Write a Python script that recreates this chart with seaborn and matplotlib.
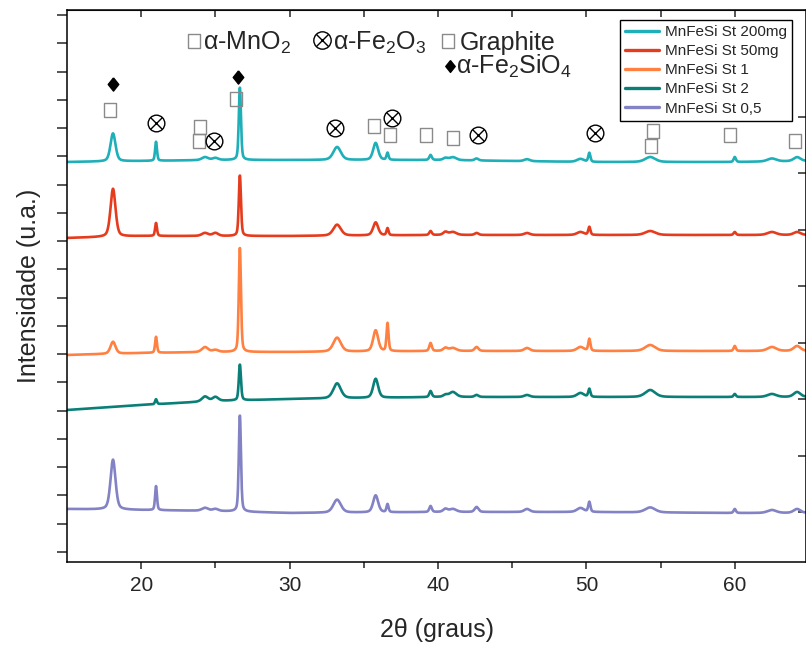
import numpy as np
import pandas as pd
import matplotlib
matplotlib.use("Agg")
import matplotlib.pyplot as plt
import seaborn as sns

# ---------------- data ----------------
series_names = ["MnFeSi St 200mg", "MnFeSi St 50mg", "MnFeSi St 1", "MnFeSi St 2", "MnFeSi St 0,5"]
series_colors = ["#1FAFB8", "#E63C1E", "#FF8040", "#0A7F78", "#8282C4"]

two_theta_min, two_theta_max = 15.0, 65.0

# common reflections (2theta), and their widths (FWHM, degrees)
peak_pos = [18.1, 21.0, 24.3, 25.0, 26.65, 33.2, 35.8, 36.6, 39.5, 40.5, 41.0, 42.6, 46.0, 49.6, 50.2, 54.3, 60.0, 62.5, 64.2]
peak_fwhm = [0.40, 0.15, 0.5, 0.45, 0.17, 0.6, 0.4, 0.16, 0.2, 0.35, 0.55, 0.3, 0.45, 0.55, 0.17, 0.8, 0.18, 0.7, 0.55]

# peak intensities above background for each sample (u.a.)
h_200mg = [28, 19, 3, 2, 73, 13, 17, 7, 5, 2, 3, 2, 2, 3, 9, 5, 5, 3, 4]
h_50mg = [48, 13, 3, 3, 61, 11, 13, 7, 4, 3, 3, 2, 2, 3, 8, 4, 3, 3, 3]
h_st1 = [12, 16, 5, 2, 105, 14, 21, 28, 8, 3, 3, 4, 3, 4, 12, 6, 5, 4, 5]
h_st2 = [0, 5, 5, 4, 36, 15, 19, 0, 6, 2, 5, 2, 2, 4, 8, 7, 3, 3, 5]
h_st05 = [50, 24, 3, 2, 97, 13, 17, 8, 6, 3, 3, 5, 3, 4, 10, 5, 4, 3, 4]

# background (stack offset) read at a few 2theta values
bg_x = [15, 20, 25, 30, 40, 50, 60, 65]
bg_200mg = [400, 401, 402, 402, 402, 400, 400, 401]
bg_50mg = [324, 326, 326, 326, 327, 327, 327, 327]
bg_st1 = [207, 209, 210, 210, 211, 211, 211, 211]
bg_st2 = [152, 157, 161, 163, 165, 165, 165, 165]
bg_st05 = [53, 52, 51, 49, 50, 50, 49, 49]

# phase markers (2theta, intensity)
mno2_graphite_x = [17.9, 26.38, 23.96, 23.89, 35.67, 36.75, 39.18, 41.0, 54.46, 54.33, 59.7, 64.09]
mno2_graphite_y = [452, 463, 435, 421, 436, 427, 427, 424, 431, 416, 427, 421]
fe2o3_x = [21.0, 24.9, 33.05, 36.9, 42.7, 50.56]
fe2o3_y = [439, 421, 434, 444, 427, 429]
fe2sio4_x = [18.1, 26.5]
fe2sio4_y = [478, 485]

# ---------------- build profiles ----------------
heights = [h_200mg, h_50mg, h_st1, h_st2, h_st05]
backgrounds = [bg_200mg, bg_50mg, bg_st1, bg_st2, bg_st05]
tt = np.linspace(two_theta_min, two_theta_max, 2501)


def profile(x, hts, bg):
    y = np.interp(x, bg_x, bg).astype(float)
    for p, h, w in zip(peak_pos, hts, peak_fwhm):
        d = (x - p) / w
        g = np.exp(-4 * np.log(2) * d ** 2)
        l = 1.0 / (1 + 4 * d ** 2)
        y += h * (0.6 * g + 0.4 * l)
    return y


frames = []
for name, hts, bg in zip(series_names, heights, backgrounds):
    frames.append(pd.DataFrame({"2theta": tt, "I": profile(tt, hts, bg), "amostra": name}))
df = pd.concat(frames, ignore_index=True)

# ---------------- plot ----------------
sns.set_style("ticks")
plt.rcParams["font.family"] = ["Liberation Sans", "DejaVu Sans"]
plt.rcParams["mathtext.fontset"] = "custom"
plt.rcParams["mathtext.rm"] = "Liberation Sans"
plt.rcParams["mathtext.it"] = "Liberation Sans:italic"

W, H = 806, 646
fig = plt.figure(figsize=(W / 100, H / 100), dpi=100)
ax = fig.add_axes([67 / W, 1 - 562 / H, (W - 67) / W, (562 - 10) / H])

sns.lineplot(data=df, x="2theta", y="I", hue="amostra", hue_order=series_names,
             palette=series_colors, estimator=None, sort=False, lw=1.9, ax=ax)

ax.set_xlim(15, 64.8)
ax.set_ylim(0, 552)

# phase markers
rect = [(-0.44, -0.5), (0.44, -0.5), (0.44, 0.5), (-0.44, 0.5), (-0.44, -0.5)]
diam = [(0, 0.5), (0.4, 0), (0, -0.5), (-0.4, 0), (0, 0.5)]
ax.plot(mno2_graphite_x, mno2_graphite_y, ls="none", marker=rect, ms=10.5,
        mfc="none", mec="#8a8a8a", mew=1.0, clip_on=False)
ax.plot(fe2o3_x, fe2o3_y, ls="none", marker="o", ms=12, mfc="none", mec="black", mew=1.0)
ax.plot(fe2o3_x, fe2o3_y, ls="none", marker="x", ms=8, mec="black", mew=1.0)
ax.plot(fe2sio4_x, fe2sio4_y, ls="none", marker=diam, ms=9.5, mfc="black", mec="black")

# header key
def fpt(px, py):
    return px / W, 1 - py / H

hdr_fs = 18
fig.text(*fpt(203, 50), "α-MnO$_2$", fontsize=hdr_fs, ha="left", va="baseline")
fig.text(*fpt(333, 50), "α-Fe$_2$O$_3$", fontsize=hdr_fs, ha="left", va="baseline")
fig.text(*fpt(460, 50), "Graphite", fontsize=hdr_fs, ha="left", va="baseline")
fig.text(*fpt(456, 74), "α-Fe$_2$SiO$_4$", fontsize=hdr_fs, ha="left", va="baseline")
for (px, py) in [(193.5, 41), (448, 41)]:
    ax.plot(*fpt(px, py), transform=fig.transFigure, marker=rect, ms=10.5,
            mfc="none", mec="#8a8a8a", mew=1.0, clip_on=False)
ax.plot(*fpt(321.5, 40), transform=fig.transFigure, marker="o", ms=12.5,
        mfc="none", mec="black", mew=1.0, clip_on=False)
ax.plot(*fpt(321.5, 40), transform=fig.transFigure, marker="x", ms=8.5,
        mec="black", mew=1.0, clip_on=False)
ax.plot(*fpt(450, 66), transform=fig.transFigure, marker=diam, ms=8.5,
        mfc="black", mec="black", clip_on=False)

# axes styling
for s in ax.spines.values():
    s.set_linewidth(1.1)
    s.set_color("black")
ax.set_xticks([20, 30, 40, 50, 60])
ax.set_xticks([25, 35, 45, 55], minor=True)
ax.tick_params(axis="x", which="major", direction="out", length=5, width=1.1, labelsize=15, pad=5)
ax.tick_params(axis="x", which="minor", direction="out", length=4, width=1.1)
ax.set_yticks(np.arange(10, 550, 28.26))
ax.tick_params(axis="y", direction="out", length=7, width=1.1, labelleft=False)

top = ax.secondary_xaxis("top")
top.set_xticks(np.arange(20, 65, 5))
top.tick_params(direction="in", length=5, width=1.1, labeltop=False)
right = ax.secondary_yaxis("right")
right.set_yticks(np.arange(50, 500, 56.5))
right.tick_params(direction="in", length=6, width=1.1, labelright=False)

ax.set_xlabel("2θ (graus)", fontsize=18, labelpad=17)
ax.set_ylabel("Intensidade (u.a.)", fontsize=18, labelpad=12)

leg = ax.legend(loc="upper left", bbox_to_anchor=(620 / W, 1 - 20 / H),
                bbox_transform=fig.transFigure, fontsize=11, frameon=True,
                fancybox=False, framealpha=1, edgecolor="black",
                handlelength=2.2, handletextpad=0.4, labelspacing=0.33,
                borderpad=0.35, borderaxespad=0)
leg.get_frame().set_linewidth(1.0)
for line in leg.get_lines():
    line.set_linewidth(2.4)

fig.savefig("out.png", dpi=100)
